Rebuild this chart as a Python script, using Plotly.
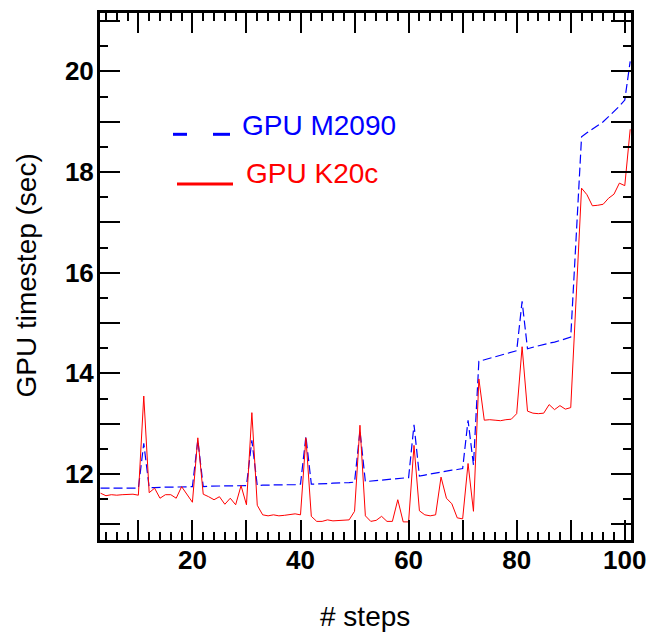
import plotly.graph_objects as go

# ---- data ----
steps = list(range(3, 102))

k20c = [
    11.62, 11.57, 11.59, 11.58, 11.59, 11.59, 11.60, 11.58,          # 3-10
    13.55, 11.63, 11.72, 11.52, 11.59, 11.59, 11.52, 11.75, 11.60, 11.44,  # 11-20
    12.72, 11.60, 11.55, 11.49, 11.55, 11.40, 11.52, 11.39, 11.77, 11.39,  # 21-30
    13.22, 11.38, 11.19, 11.17, 11.19, 11.17, 11.18, 11.19, 11.21, 11.19,  # 31-40
    12.72, 11.16, 11.06, 11.06, 11.09, 11.07, 11.08, 11.08, 11.09, 11.26,  # 41-50
    12.97, 11.17, 11.06, 11.08, 11.16, 11.06, 11.06, 11.49, 11.05, 11.05,  # 51-60
    12.57, 11.27, 11.19, 11.17, 11.19, 11.94, 11.52, 11.41, 11.13, 11.11,  # 61-70
    12.21, 11.26, 13.89, 13.07, 13.08, 13.07, 13.06, 13.08, 13.09, 13.20,  # 71-80
    14.53, 13.25, 13.21, 13.20, 13.21, 13.38, 13.28, 13.36, 13.29, 13.32,  # 81-90
    15.50, 17.68, 17.55, 17.33, 17.34, 17.36, 17.48, 17.56, 17.78, 17.73,  # 91-100
    18.85,                                                                 # 101
]

m2090 = [
    11.72, 11.72, 11.72, 11.72, 11.72, 11.72, 11.72, 11.72,          # 3-10
    12.61, 11.73, 11.73, 11.74, 11.74, 11.74, 11.74, 11.75, 11.75, 11.75,  # 11-20
    12.68, 11.75, 11.76, 11.76, 11.76, 11.76, 11.77, 11.77, 11.77, 11.77,  # 21-30
    12.67, 11.77, 11.78, 11.78, 11.78, 11.78, 11.79, 11.79, 11.79, 11.80,  # 31-40
    12.75, 11.80, 11.80, 11.81, 11.81, 11.82, 11.82, 11.83, 11.83, 11.84,  # 41-50
    12.86, 11.85, 11.86, 11.87, 11.88, 11.89, 11.90, 11.91, 11.92, 11.93,  # 51-60
    12.98, 11.96, 11.98, 12.00, 12.02, 12.05, 12.06, 12.08, 12.09, 12.11,  # 61-70
    13.07, 12.18, 14.24, 14.27, 14.29, 14.32, 14.35, 14.38, 14.41, 14.45,  # 71-80
    15.43, 14.49, 14.52, 14.55, 14.58, 14.60, 14.62, 14.65, 14.68, 14.72,  # 81-90
    16.70, 18.70, 18.78, 18.85, 18.92, 19.00, 19.10, 19.20, 19.31, 19.43,  # 91-100
    20.20,                                                                 # 101
]

x_tickvals = [10, 20, 30, 40, 50, 60, 70, 80, 90, 100]
x_ticktext = ["", "20", "", "40", "", "60", "", "80", "", "100"]
y_tickvals = [11, 12, 13, 14, 15, 16, 17, 18, 19, 20, 21]
y_ticktext = ["", "12", "", "14", "", "16", "", "18", "", "20", ""]

series_names = ["GPU M2090", "GPU K20c"]

# ---- layout geometry (page has an 8px body margin) ----
OFF = 8
PAGE_W, PAGE_H = 663, 632
W, H = PAGE_W - OFF, PAGE_H - OFF
PLOT_L, PLOT_R, PLOT_T, PLOT_B = 100, 631, 10, 540   # page pixels
L = PLOT_L - OFF
T = PLOT_T - OFF
R = W - (PLOT_R - OFF)
B = H - (PLOT_B - OFF)
PW, PH = PLOT_R - PLOT_L, PLOT_B - PLOT_T


def fx(px):
    return (px - PLOT_L) / PW


def fy(py):
    return (PLOT_B - py) / PH


FONT = "Liberation Sans, Arial, Helvetica, sans-serif"
BLUE = "#0000ff"
RED = "#ff0000"

fig = go.Figure()
fig.add_trace(go.Scatter(x=steps, y=m2090, mode="lines", name=series_names[0],
                         line=dict(color=BLUE, width=1.2, dash="9px,4px")))
fig.add_trace(go.Scatter(x=steps, y=k20c, mode="lines", name=series_names[1],
                         line=dict(color=RED, width=1)))

axis_common = dict(
    showgrid=False, zeroline=False, showline=True, linecolor="black",
    linewidth=3, mirror="allticks", ticks="inside", ticklen=20, tickwidth=1.5,
    tickcolor="black",
    tickfont=dict(family=FONT, size=26, color="black", weight="bold"),
)

fig.update_xaxes(
    range=[2.9, 101.15], tickmode="array", tickvals=x_tickvals, ticktext=x_ticktext,
    ticklabelstandoff=-5,
    minor=dict(tickmode="linear", tick0=0, dtick=2, ticks="inside", ticklen=8,
               tickwidth=1.5, tickcolor="black"),
    **axis_common,
)
fig.update_yaxes(
    range=[10.69, 21.16], tickmode="array", tickvals=y_tickvals, ticktext=y_ticktext,
    ticklabelstandoff=-2,
    minor=dict(tickmode="linear", tick0=0, dtick=0.5, ticks="inside", ticklen=8,
               tickwidth=1.5, tickcolor="black"),
    **axis_common,
)

annotations = [
    dict(text="# steps", x=fx(365), y=fy(617), xref="paper", yref="paper",
         xanchor="center", yanchor="middle", showarrow=False,
         font=dict(family=FONT, size=28, color="black")),
    dict(text="GPU timestep (sec)", x=fx(27), y=fy(274), xref="paper", yref="paper",
         xanchor="center", yanchor="middle", showarrow=False, textangle=-90,
         font=dict(family=FONT, size=28, color="black")),
    dict(text=series_names[0], x=fx(240), y=fy(123), xref="paper", yref="paper",
         xanchor="left", yanchor="middle", showarrow=False,
         font=dict(family=FONT, size=28, color=BLUE)),
    dict(text=series_names[1], x=fx(244), y=fy(171), xref="paper", yref="paper",
         xanchor="left", yanchor="middle", showarrow=False,
         font=dict(family=FONT, size=28, color=RED)),
]

shapes = [
    dict(type="line", xref="paper", yref="paper", x0=fx(173), x1=fx(187),
         y0=fy(132), y1=fy(132), line=dict(color=BLUE, width=3)),
    dict(type="line", xref="paper", yref="paper", x0=fx(213), x1=fx(230),
         y0=fy(132), y1=fy(132), line=dict(color=BLUE, width=3)),
    dict(type="line", xref="paper", yref="paper", x0=fx(177), x1=fx(233),
         y0=fy(182), y1=fy(182), line=dict(color=RED, width=3)),
]

fig.update_layout(
    width=W, height=H, margin=dict(l=L, r=R, t=T, b=B),
    paper_bgcolor="white", plot_bgcolor="white", showlegend=False,
    annotations=annotations, shapes=shapes,
    font=dict(family=FONT, color="black"),
)

fig.write_html("out.html")
